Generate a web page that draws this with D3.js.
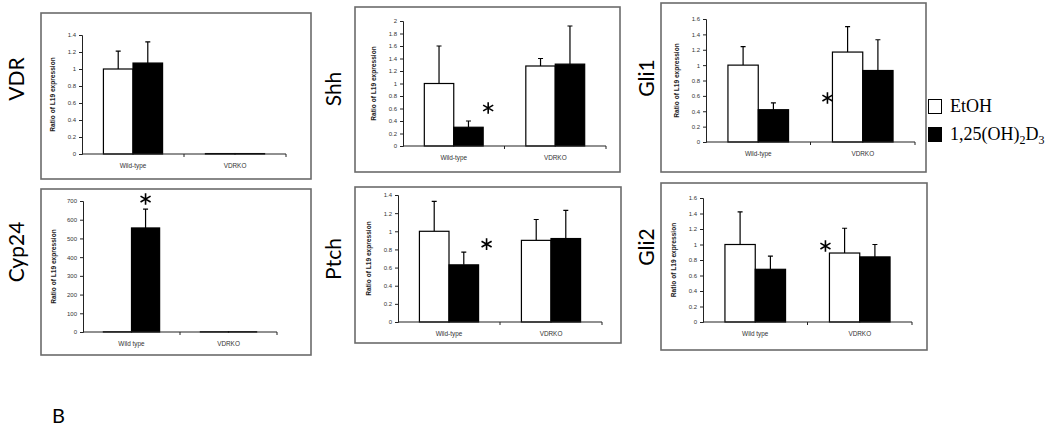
<!DOCTYPE html>
<html>
<head>
<meta charset="utf-8">
<script src="https://cdn.jsdelivr.net/npm/d3@7"></script>
<style>
body { margin: 0; background: #fff; }
svg { display: block; }
</style>
</head>
<body>
<svg id="fig" width="1050" height="428"></svg>
<script>
//Chart data
var genes = ["VDR", "Cyp24", "Shh", "Ptch", "Gli1", "Gli2"];
var groups = ["Wild-type", "VDRKO"];
var series = ["EtOH", "1,25(OH)2D3"];
var groupLabels = [
    ["Wild-type", "VDRKO"], ["Wild type", "VDRKO"], ["Wild-type", "VDRKO"],
    ["Wild-type", "VDRKO"], ["Wild-type", "VDRKO"], ["Wild type", "VDRKO"]
];
var etohMean = [[1.00, 0.005], [1, 1], [1.00, 1.28], [1.00, 0.90], [1.00, 1.17], [1.00, 0.89]];
var etohErr  = [[0.21, 0], [0, 0], [0.60, 0.12], [0.33, 0.23], [0.24, 0.33], [0.42, 0.32]];
var vitdMean = [[1.07, 0.005], [556, 1], [0.30, 1.31], [0.63, 0.92], [0.42, 0.93], [0.68, 0.84]];
var vitdErr  = [[0.25, 0], [101, 0], [0.10, 0.61], [0.14, 0.31], [0.09, 0.40], [0.17, 0.16]];
var yMax  = [1.4, 700, 2, 1.4, 1.6, 1.6];
var yStep = [0.2, 100, 0.2, 0.2, 0.2, 0.2];
var yTitle = "Ratio of L19 expression";
//Significance marks: gene index, group index, series index
var stars = [[1, 0, 1], [2, 0, 1], [3, 0, 1], [4, 1, 0], [5, 1, 0]];

//Layout
var panels = [
    {box: [41, 13, 311, 179],  x0: 82,  x1: 286, y0: 154, y1: 35,  title: [15, 79]},
    {box: [41, 189, 311, 355], x0: 83,  x1: 277, y0: 332, y1: 201, title: [15, 252]},
    {box: [355, 7, 620, 172],  x0: 403, x1: 606, y0: 146, y1: 21,  title: [332, 89]},
    {box: [355, 187, 621, 343], x0: 398, x1: 602, y0: 322, y1: 195, title: [332, 259]},
    {box: [661, 3, 926, 172],  x0: 706, x1: 915, y0: 142, y1: 19,  title: [645, 78]},
    {box: [661, 183, 927, 350], x0: 703, x1: 912, y0: 322, y1: 198, title: [645, 247]}
];
//star offsets: [anchor, dx, dy]
var starPlace = [["top", 0, -10], ["right", 5, -13], ["right", 8, -8], ["left", -5, 46], ["left", -4, -7]];

var svg = d3.select("#fig");

genes.forEach(function(gene, gi) {
    var p = panels[gi];
    var g = svg.append("g").attr("class", "panel");

    g.append("rect")
        .attr("x", p.box[0]).attr("y", p.box[1])
        .attr("width", p.box[2] - p.box[0]).attr("height", p.box[3] - p.box[1])
        .attr("fill", "#fff").attr("stroke", "#6b6b6b").attr("stroke-width", 1.6);

    g.append("text")
        .attr("transform", "translate(" + p.title[0] + "," + p.title[1] + ") rotate(-90)")
        .attr("text-anchor", "middle").attr("dominant-baseline", "central")
        .style("font-family", "Lato, 'Open Sans', sans-serif").style("font-size", "21px")
        .text(gene);

    var x = d3.scaleBand().domain(groups).range([p.x0, p.x1]);
    var xs = d3.scaleBand().domain(series)
        .range([x.bandwidth() * 0.21, x.bandwidth() * 0.79]);
    var y = d3.scaleLinear().domain([0, yMax[gi]]).range([p.y0, p.y1]);

    //y axis
    var ticks = d3.range(0, yMax[gi] + yStep[gi] / 2, yStep[gi]).map(function(v) { return +v.toFixed(2); });
    var yAxis = d3.axisLeft(y).tickValues(ticks).tickSize(3).tickPadding(3)
        .tickFormat(function(v) { return String(v); });
    var ya = g.append("g").attr("transform", "translate(" + p.x0 + ",0)").call(yAxis);
    ya.select(".domain").attr("stroke", "#222");
    ya.selectAll(".tick line").attr("stroke", "#222");
    ya.selectAll(".tick text").attr("fill", "#333")
        .style("font-family", "'Liberation Sans', Arial, sans-serif").style("font-size", "6px");

    g.append("text")
        .attr("transform", "translate(" + (p.x0 - 30) + "," + ((p.y0 + p.y1) / 2) + ") rotate(-90)")
        .attr("text-anchor", "middle").attr("dominant-baseline", "central")
        .style("font-family", "'Liberation Sans', Arial, sans-serif").style("font-size", "6.6px")
        .style("font-weight", "bold").attr("fill", "#222")
        .text(yTitle);

    //bars
    var bars = [];
    groups.forEach(function(grp, k) {
        bars.push({grp: grp, s: series[0], v: etohMean[gi][k], e: etohErr[gi][k], fill: "#fff"});
        bars.push({grp: grp, s: series[1], v: vitdMean[gi][k], e: vitdErr[gi][k], fill: "#000"});
    });

    g.selectAll(".err").data(bars.filter(function(d) { return d.e > 0; })).enter()
        .append("path").attr("class", "err")
        .attr("d", function(d) {
            var cx = x(d.grp) + xs(d.s) + xs.bandwidth() / 2;
            var top = y(d.v + d.e);
            return "M" + cx + "," + y(d.v) + "V" + top + "M" + (cx - 2.5) + "," + top + "H" + (cx + 2.5);
        })
        .attr("stroke", "#000").attr("stroke-width", 1.2).attr("fill", "none");

    g.selectAll(".bar").data(bars).enter()
        .append("rect").attr("class", "bar")
        .attr("x", function(d) { return x(d.grp) + xs(d.s); })
        .attr("width", xs.bandwidth())
        .attr("y", function(d) { return y(d.v); })
        .attr("height", function(d) { return p.y0 - y(d.v); })
        .attr("fill", function(d) { return d.fill; })
        .attr("stroke", "#000").attr("stroke-width", 1.2);

    //x axis
    var xa = g.append("g").attr("transform", "translate(0," + p.y0 + ")");
    xa.append("line").attr("x1", p.x0).attr("x2", p.x1).attr("stroke", "#222").attr("stroke-width", 1.2);
    xa.selectAll(".xt").data([p.x0 + x.bandwidth(), p.x1]).enter()
        .append("line").attr("x1", function(d) { return d; }).attr("x2", function(d) { return d; })
        .attr("y1", 0).attr("y2", 3).attr("stroke", "#222");
    xa.selectAll(".xl").data(groups).enter()
        .append("text")
        .attr("x", function(d) { return x(d) + x.bandwidth() / 2; })
        .attr("y", 14)
        .attr("text-anchor", "middle").attr("fill", "#333")
        .style("font-family", "'Liberation Sans', Arial, sans-serif").style("font-size", "6.4px")
        .text(function(d, k) { return groupLabels[gi][k]; });
});

//stars
stars.forEach(function(st, si) {
    var gi = st[0], p = panels[gi];
    var x = d3.scaleBand().domain(groups).range([p.x0, p.x1]);
    var xs = d3.scaleBand().domain(series).range([x.bandwidth() * 0.21, x.bandwidth() * 0.79]);
    var y = d3.scaleLinear().domain([0, yMax[gi]]).range([p.y0, p.y1]);
    var mean = st[2] === 0 ? etohMean : vitdMean;
    var err = st[2] === 0 ? etohErr : vitdErr;
    var left = x(groups[st[1]]) + xs(series[st[2]]);
    var pl = starPlace[si];
    var sx = pl[0] === "top" ? left + xs.bandwidth() / 2 : (pl[0] === "right" ? left + xs.bandwidth() : left);
    var sy = pl[0] === "left" ? y(mean[gi][st[1]]) : y(mean[gi][st[1]] + err[gi][st[1]]);
    svg.append("path")
        .attr("transform", "translate(" + (sx + pl[1]) + "," + (sy + pl[2]) + ")")
        .attr("d", d3.symbol().type(d3.symbolAsterisk).size(95)())
        .attr("stroke", "#000").attr("stroke-width", 1.6).attr("fill", "none");
});

//legend
var legend = svg.append("g").attr("transform", "translate(928,99)");
series.forEach(function(s, i) {
    legend.append("rect").attr("x", 0.5).attr("y", i * 28 + 0.5).attr("width", 13).attr("height", 14)
        .attr("fill", i === 0 ? "#fff" : "#000").attr("stroke", "#000").attr("stroke-width", 1);
});
var lt = legend.append("g").style("font-family", "'Liberation Serif', 'Times New Roman', serif").style("font-size", "18px");
lt.append("text").attr("x", 22).attr("y", 13).text("EtOH");
var t2 = lt.append("text").attr("x", 22).attr("y", 41);
t2.append("tspan").text("1,25(OH)");
t2.append("tspan").attr("dy", 4).style("font-size", "12px").text("2");
t2.append("tspan").attr("dy", -4).text("D");
t2.append("tspan").attr("dy", 4).style("font-size", "12px").text("3");

svg.append("text").attr("x", 52).attr("y", 423)
    .style("font-family", "Lato, 'Open Sans', sans-serif").style("font-size", "20px")
    .text("B");
</script>
</body>
</html>
